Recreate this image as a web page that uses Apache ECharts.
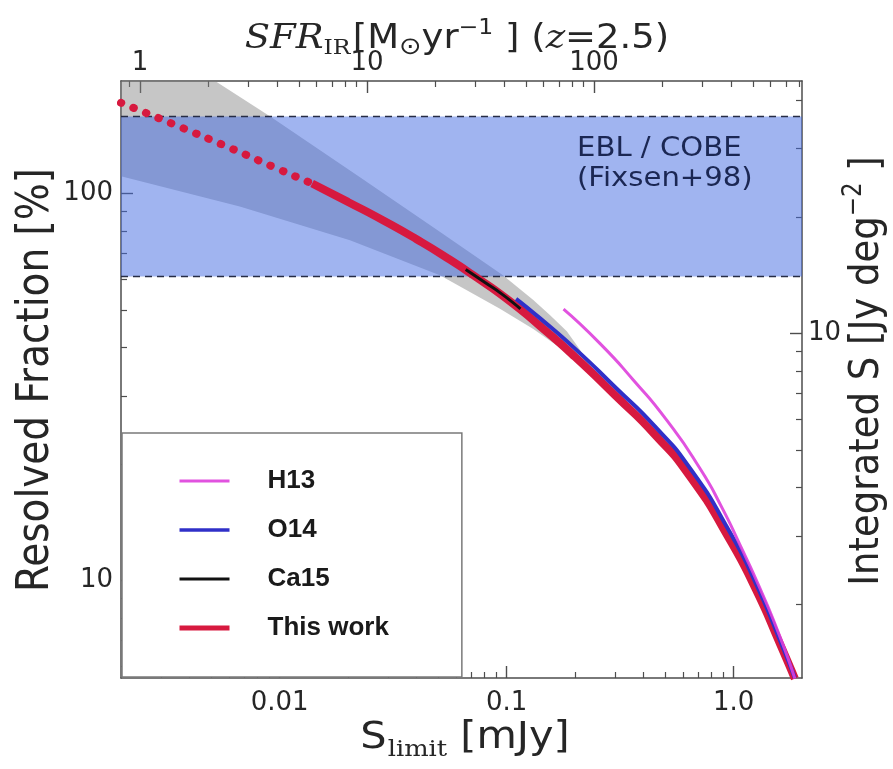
<!DOCTYPE html>
<html><head><meta charset="utf-8">
<script src="https://cdn.jsdelivr.net/npm/echarts@6/dist/echarts.min.js"></script>
<style>html,body{margin:0;padding:0;background:#fff}#chart{width:893px;height:769px}</style>
</head><body><div id="chart"></div>
<script>
// ---- axis ranges and conversions ----
const xRange = [0.002, 2.0];          // S_limit [mJy]
const yRange = [5.6, 195];            // Resolved fraction [%]
const sfrPerMJy = 412;                // SFR_IR (z=2.5) per mJy
const jyDegPerPercent = 0.23;         // Integrated S [Jy deg^-2] per %

// ---- ticks ----
const xMajorTicks = [0.01, 0.1, 1];
const xTickLabels = ['0.01', '0.1', '1.0'];
const xMinorTicks = [0.003,0.004,0.005,0.006,0.007,0.008,0.009,0.02,0.03,0.04,0.05,0.06,0.07,0.08,0.09,0.2,0.3,0.4,0.5,0.6,0.7,0.8,0.9];
const yMajorTicks = [10, 100];
const yTickLabels = ['10', '100'];
const yMinorTicks = [6,7,8,9,20,30,40,50,60,70,80,90];
const topMajorTicks = [1, 10, 100];
const topTickLabels = ['1', '10', '100'];
const topMinorTicks = [0.9,2,3,4,5,6,7,8,9,20,30,40,50,60,70,80,90,200,300,400,500,600,700,800];
const rightMajorTicks = [10];
const rightTickLabels = ['10'];
const rightMinorTicks = [2,3,4,5,6,7,8,9,20,30,40];

// ---- EBL / COBE band [%] ----
const eblBand = [61, 158];

// ---- uncertainty envelope of "This work" ----
const envUpperS = [0.002, 0.00534, 0.00902, 0.0225, 0.05, 0.0963, 0.131, 0.155, 0.184, 0.21, 0.235];
const envUpperV = [279, 193, 158.4, 110.2, 80, 61.4, 53, 48.5, 44, 39.5, 35.5];
const envLowerS = [0.002, 0.00667, 0.0204, 0.0508, 0.0934, 0.131, 0.184, 0.235];
const envLowerV = [110.7, 92.5, 75.6, 61.4, 50.3, 44.6, 38.8, 35.5];

// ---- curves ----
const thisWorkExtrapS = [0.002, 0.0035, 0.006, 0.01, 0.0139];
const thisWorkExtrapV = [171.3, 149.8, 131.2, 115.1, 106];
const thisWorkS = [0.0139, 0.02, 0.0285, 0.0401, 0.0562, 0.0713, 0.1, 0.14, 0.2, 0.3, 0.45, 0.65, 0.95, 1.25, 1.6, 1.86];
const thisWorkV = [106, 95.0, 85.2, 76.1, 67.4, 61.4, 53.4, 45.45, 37.8, 30.1, 23.8, 18.38, 12.9, 9.5, 6.86, 5.58];
const ca15S = [0.066, 0.08, 0.095, 0.115];
const ca15V = [63.6, 58.9, 55.0, 50.3];
const o14S = [0.11, 0.14, 0.2, 0.3, 0.45, 0.65, 0.95, 1.25, 1.6, 1.86];
const o14V = [53.4, 47.6, 39.7, 31.6, 25.0, 19.3, 13.5, 9.85, 7.0, 5.6];
const h13S = [0.178, 0.258, 0.362, 0.508, 0.713, 0.889, 1.07, 1.3, 1.6, 1.86];
const h13V = [50.2, 40.9, 32.9, 25.9, 19.4, 15.4, 12.3, 9.6, 7.15, 5.58];

// ---- helpers ----
const zip = (a, b) => a.map((v, i) => [v, b[i]]);
const labelFor = (ticks, labels) => (v) => {
  let best = 0, bd = Infinity;
  ticks.forEach((t, i) => { const d = Math.abs(Math.log10(v) - Math.log10(t)); if (d < bd) { bd = d; best = i; } });
  return labels[best];
};
const frameColor = '#4d4d4d';
const textColor = '#262626';
const tickFont = { fontFamily: 'DejaVu Sans', fontSize: 26, color: textColor };

function axisPair(pos, range, majors, labels, minors, margin) {
  const common = { type: 'log', logBase: 10, position: pos, min: range[0], max: range[1], gridIndex: 0, splitLine: { show: false }, minorTick: { show: false } };
  return [
    Object.assign({}, common, {
      axisLine: { show: true, lineStyle: { color: frameColor, width: 1.5 } },
      axisTick: { show: true, inside: true, length: 12, customValues: majors, lineStyle: { color: frameColor, width: 1.4 } },
      axisLabel: Object.assign({ show: true, customValues: majors, formatter: labelFor(majors, labels), margin: margin }, tickFont)
    }),
    Object.assign({}, common, {
      axisLine: { show: false },
      axisTick: { show: true, inside: true, length: 6, customValues: minors, lineStyle: { color: frameColor, width: 1.2 } },
      axisLabel: { show: false }
    })
  ];
}

const xAxes = [].concat(
  axisPair('bottom', xRange, xMajorTicks, xTickLabels, xMinorTicks, 12),
  axisPair('top', [xRange[0] * sfrPerMJy, xRange[1] * sfrPerMJy], topMajorTicks, topTickLabels, topMinorTicks, 5)
);
const yAxes = [].concat(
  axisPair('left', yRange, yMajorTicks, yTickLabels, yMinorTicks, 8),
  axisPair('right', [yRange[0] * jyDegPerPercent, yRange[1] * jyDegPerPercent], rightMajorTicks, rightTickLabels, rightMinorTicks, 6)
);

const envelopeVerts = zip(envUpperS, envUpperV).concat(zip(envLowerS, envLowerV).reverse());
const red = '#d7193f';
const smoothness = 0.6;

const chart = echarts.init(document.getElementById('chart'), null, { renderer: 'canvas' });
chart.setOption({
  animation: false,
  backgroundColor: '#ffffff',
  grid: { left: 121, right: 91, top: 81, bottom: 91, containLabel: false },
  xAxis: xAxes,
  yAxis: yAxes,
  legend: {
    data: [
      { name: 'H13', lineStyle: { width: 3 } },
      { name: 'O14', lineStyle: { width: 3.5 } },
      { name: 'Ca15', lineStyle: { width: 3 } },
      { name: 'This work', lineStyle: { width: 5 } }
    ],
    orient: 'vertical', left: 122, top: 433,
    padding: [33, 73, 34, 55], itemGap: 19, itemWidth: 50, itemHeight: 14,
    backgroundColor: '#ffffff', borderColor: '#7a7a7a', borderWidth: 1.5, borderRadius: 0,
    itemStyle: { opacity: 0 },
    textStyle: { fontFamily: 'Liberation Sans', fontWeight: 'bold', fontSize: 26, color: '#1a1a1a', padding: [0, 0, 0, 33], lineHeight: 30 },
    selectedMode: false
  },
  series: [
    {
      type: 'custom', name: 'envelope', z: 1, clip: true, silent: true,
      xAxisIndex: 0, yAxisIndex: 0,
      data: envelopeVerts,
      renderItem: function (params, api) {
        if (params.dataIndex !== 0) return null;
        const pts = envelopeVerts.map(p => api.coord(p));
        return { type: 'polygon', shape: { points: pts }, style: { fill: 'rgba(128,128,128,0.45)', stroke: null } };
      }
    },
    {
      type: 'custom', name: 'EBL / COBE', z: 2, clip: true, silent: true,
      xAxisIndex: 0, yAxisIndex: 0,
      data: [[xRange[0], eblBand[0]]],
      renderItem: function (params, api) {
        const pTop = api.coord([xRange[0], eblBand[1]]);
        const pBot = api.coord([xRange[1], eblBand[0]]);
        const dash = { stroke: '#262c45', lineWidth: 1.5, lineDash: [7, 5] };
        return {
          type: 'group', children: [
            { type: 'rect', shape: { x: pTop[0], y: pTop[1], width: pBot[0] - pTop[0], height: pBot[1] - pTop[1] }, style: { fill: 'rgba(65,105,225,0.5)' } },
            { type: 'line', shape: { x1: pTop[0], y1: pTop[1], x2: pBot[0], y2: pTop[1] }, style: dash },
            { type: 'line', shape: { x1: pTop[0], y1: pBot[1], x2: pBot[0], y2: pBot[1] }, style: dash }
          ]
        };
      }
    },
    {
      type: 'line', name: 'This work (extrapolated)', z: 3, xAxisIndex: 0, yAxisIndex: 0,
      data: zip(thisWorkExtrapS, thisWorkExtrapV), showSymbol: false, symbol: 'none', smooth: smoothness, silent: true,
      lineStyle: { color: red, width: 8, type: [0.5, 13], cap: 'round' }
    },
    {
      type: 'line', name: 'This work', z: 3, xAxisIndex: 0, yAxisIndex: 0,
      data: zip(thisWorkS, thisWorkV), showSymbol: false, symbol: 'none', smooth: smoothness, silent: true,
      itemStyle: { color: red },
      lineStyle: { color: red, width: 8 }
    },
    {
      type: 'line', name: 'Ca15', z: 4, xAxisIndex: 0, yAxisIndex: 0,
      data: zip(ca15S, ca15V), showSymbol: false, symbol: 'none', smooth: smoothness, silent: true,
      itemStyle: { color: '#111111' },
      lineStyle: { color: '#111111', width: 3 }
    },
    {
      type: 'line', name: 'O14', z: 5, xAxisIndex: 0, yAxisIndex: 0,
      data: zip(o14S, o14V), showSymbol: false, symbol: 'none', smooth: smoothness, silent: true,
      itemStyle: { color: '#3030c8' },
      lineStyle: { color: '#3030c8', width: 4 }
    },
    {
      type: 'line', name: 'H13', z: 6, xAxisIndex: 0, yAxisIndex: 0,
      data: zip(h13S, h13V), showSymbol: false, symbol: 'none', smooth: smoothness, silent: true,
      itemStyle: { color: '#de3fdc' },
      lineStyle: { color: '#de3fdc', width: 3, opacity: 0.9 }
    }
  ],
  graphic: [
    {
      type: 'text', x: 457, y: 39, scaleX: 1.12, z: 10, silent: true,
      style: {
        text: '{it|SFR}{sub|IR}{n|[M}{sub2|⊙}{n|yr}{sup|−1}{n| ] (}{it|z}{n|=2.5)}',
        align: 'center', verticalAlign: 'middle', fill: textColor,
        rich: {
          it: { fontFamily: 'DejaVu Serif', fontStyle: 'italic', fontSize: 33, fill: textColor },
          n: { fontFamily: 'DejaVu Sans', fontSize: 33, fill: textColor },
          sub: { fontFamily: 'DejaVu Serif', fontSize: 21, fill: textColor, padding: [20, 2, 0, 0] },
          sub2: { fontFamily: 'DejaVu Sans', fontSize: 24, fill: textColor, padding: [18, 0, 0, 0] },
          sup: { fontFamily: 'DejaVu Sans', fontSize: 21, fill: textColor, padding: [0, 0, 20, 0] }
        }
      }
    },
    {
      type: 'text', x: 465, y: 738, scaleX: 1.12, z: 10, silent: true,
      style: {
        text: '{n|S}{sub|limit}{n| [mJy]}',
        align: 'center', verticalAlign: 'middle', fill: textColor,
        rich: {
          n: { fontFamily: 'DejaVu Sans', fontSize: 37, fill: textColor },
          sub: { fontFamily: 'DejaVu Serif', fontSize: 23, fill: textColor, padding: [24, 0, 0, 1] }
        }
      }
    },
    {
      type: 'text', x: 37, y: 380, rotation: Math.PI / 2, scaleY: 1.12, z: 10, silent: true,
      style: {
        text: 'Resolved Fraction [%]', align: 'center', verticalAlign: 'middle',
        fontFamily: 'DejaVu Sans', fontSize: 39, fill: textColor
      }
    },
    {
      type: 'text', x: 867, y: 371, rotation: Math.PI / 2, scaleY: 1.12, z: 10, silent: true,
      style: {
        text: '{n|Integrated S [Jy deg}{sup|−2}{n| ]}', align: 'center', verticalAlign: 'middle', fill: textColor,
        rich: {
          n: { fontFamily: 'DejaVu Sans', fontSize: 37, fill: textColor },
          sup: { fontFamily: 'DejaVu Sans', fontSize: 23, fill: textColor, padding: [0, 0, 22, 0] }
        }
      }
    },
    {
      type: 'text', x: 577, y: 164, scaleX: 1.12, z: 10, silent: true,
      style: {
        text: 'EBL / COBE\n(Fixsen+98)', align: 'left', verticalAlign: 'middle',
        fontFamily: 'DejaVu Sans', fontSize: 26, lineHeight: 30, fill: '#1b2753'
      }
    }
  ]
});
</script>
</body></html>
